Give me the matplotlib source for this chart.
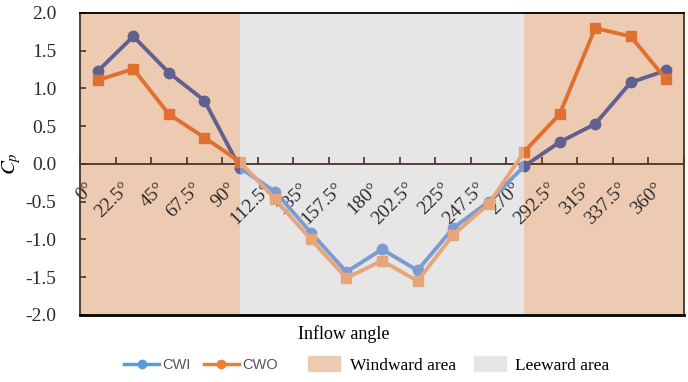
import matplotlib
matplotlib.use("Agg")
import matplotlib.pyplot as plt
from matplotlib.patches import Rectangle, Patch
from matplotlib.lines import Line2D
from matplotlib.ticker import FixedLocator, FuncFormatter

plt.rcParams['font.family'] = ['Liberation Serif', 'DejaVu Serif']
plt.rcParams['mathtext.fontset'] = 'stix'
plt.rcParams['axes.unicode_minus'] = False

# datos
angulos = ['0°', '22.5°', '45°', '67.5°', '90°', '112.5°', '135°', '157.5°', '180°',
           '202.5°', '225°', '247.5°', '270°', '292.5°', '315°', '337.5°', '360°']
cwi = [1.23, 1.69, 1.21, 0.84, -0.05, -0.37, -0.91, -1.43, -1.13,
       -1.41, -0.85, -0.50, -0.03, 0.29, 0.53, 1.08, 1.24]
cwo = [1.11, 1.26, 0.66, 0.35, 0.03, -0.47, -1.00, -1.51, -1.28,
       -1.55, -0.94, -0.53, 0.16, 0.66, 1.80, 1.69, 1.12]

# zonas: barlovento (windward) y sotavento (leeward), en indices de categoria
zonas = [(-0.5, 4, 'wind'), (4, 12, 'lee'), (12, 16.5, 'wind')]
col_wind = '#EDCBB3'
col_lee = '#E6E6E6'

# colores de las lineas segun la zona (el sombreado tiñe las lineas)
col_cwi = {'wind': '#62608F', 'lee': '#7D9BD2'}
col_cwo = {'wind': '#E07030', 'lee': '#E7A57A'}

fig = plt.figure(figsize=(6.88, 3.82), dpi=100)
ax = fig.add_axes([0.1163, 0.1754, 0.8779, 0.7906])

x = list(range(len(angulos)))

for x0, x1, z in zonas:
    ax.axvspan(x0, x1, color=col_wind if z == 'wind' else col_lee, lw=0, zorder=0)


def dibujar(vals, colores, marker, ms, zorder):
    for x0, x1, z in zonas:
        linea, = ax.plot(x, vals, color=colores[z], lw=2.8, marker=marker,
                         markersize=ms, zorder=zorder, clip_on=True)
        rect = Rectangle((x0, -2), x1 - x0, 4, transform=ax.transData)
        linea.set_clip_path(rect)


dibujar(cwi, col_cwi, 'o', 7.5, 3)
dibujar(cwo, col_cwo, 's', 7, 4)

ax.set_xlim(-0.5, 16.5)
ax.set_ylim(-2, 2)

# eje x en y=0
ax.spines['bottom'].set_position(('data', 0))
ax.spines['bottom'].set_color('#4a3424')
ax.spines['bottom'].set_linewidth(1.3)
ax.spines['left'].set_color('#4a3424')
ax.spines['right'].set_color('#4a3424')
ax.spines['top'].set_color('black')
for s in ['left', 'right', 'top']:
    ax.spines[s].set_linewidth(1.3)
ax.axhline(-2, color='black', lw=2.0, zorder=5, clip_on=False)

ax.xaxis.set_major_locator(FixedLocator([i + 0.5 for i in range(-1, 17)]))
ax.xaxis.set_major_formatter(FuncFormatter(lambda v, p: ''))
ax.set_xticks(x, minor=True)
ax.set_xticklabels(angulos, minor=True, rotation=45, ha='right', va='top',
                   fontsize=14, color='#2b2b2b')
ax.tick_params(axis='x', which='major', direction='in', length=5, width=1.2,
               color='#4a3424')
ax.tick_params(axis='x', which='minor', length=0, pad=11)

ax.set_yticks([-2, -1.5, -1, -0.5, 0, 0.5, 1, 1.5, 2])
ax.yaxis.set_major_formatter(FuncFormatter(lambda v, p: '%.1f' % v))
ax.tick_params(axis='y', direction='in', length=4, width=1.2, color='#4a3424',
               labelsize=14, labelcolor='#2b2b2b', pad=17)

ax.set_ylabel('$C_p$', fontsize=15)
ax.yaxis.set_label_coords(-0.095, 0.5)

fig.text(0.5, 0.125, 'Inflow angle', ha='center', va='center', fontsize=13)

# leyenda de lineas (fuente sans)
h_lineas = [Line2D([], [], color='#5B9BD5', lw=2.5, marker='o', markersize=6),
            Line2D([], [], color='#ED7D31', lw=2.5, marker='o', markersize=6)]
leg1 = fig.legend(h_lineas, ['CWI', 'CWO'], loc='center', bbox_to_anchor=(0.292, 0.045),
                  ncol=2, frameon=False, handlelength=2.4, handletextpad=0.2,
                  columnspacing=0.9, prop={'family': 'Liberation Sans', 'size': 10.5})
for t in leg1.get_texts():
    t.set_color('#555555')

# leyenda de zonas (fuente serif)
h_zonas = [Patch(color=col_wind), Patch(color=col_lee)]
leg2 = fig.legend(h_zonas, ['Windward area', 'Leeward area'], loc='center',
                  bbox_to_anchor=(0.667, 0.045), ncol=2, frameon=False,
                  handlelength=1.85, handleheight=0.95, handletextpad=0.55,
                  columnspacing=1.0, prop={'size': 12.5})

fig.savefig('out.png', dpi=100)
